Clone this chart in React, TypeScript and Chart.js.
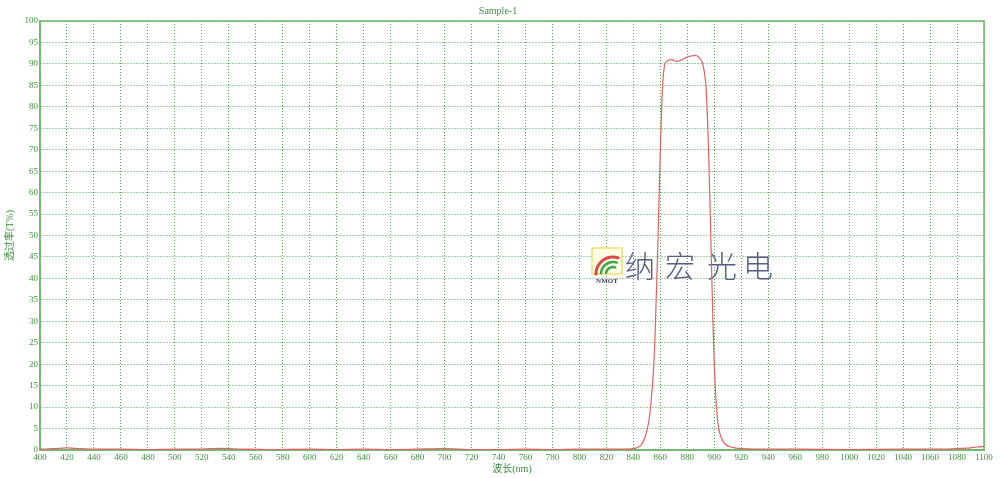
import React, { useEffect, useRef } from "react";
import { Chart, registerables } from "chart.js";

Chart.register(...registerables);

const chartTitle = "Sample-1";
const xAxisTitle = "波长(nm)";
const yAxisTitle = "透过率(T%)";
const brandChars = ["纳", "宏", "光", "电"];
const brandLogoText = "NMOT";

const xTickValues = [
  400, 420, 440, 460, 480, 500, 520, 540, 560, 580, 600, 620, 640, 660, 680, 700, 720, 740,
  760, 780, 800, 820, 840, 860, 880, 900, 920, 940, 960, 980, 1000, 1020, 1040, 1060, 1080, 1100,
];
const yTickValues = [0, 5, 10, 15, 20, 25, 30, 35, 40, 45, 50, 55, 60, 65, 70, 75, 80, 85, 90, 95, 100];

const wavelengths = [
  400, 410, 420, 430, 440, 460, 480, 500, 520, 535, 550, 570, 600, 620, 640, 660, 680, 700, 720,
  740, 760, 780, 800, 820, 832, 840, 843, 846, 848, 850, 852, 853, 854, 855, 856, 857, 858, 859,
  860, 861, 862, 863, 864, 866, 868, 870, 872, 874, 876, 878, 880, 882, 884, 886, 887, 888, 889,
  890, 891, 892, 893, 894, 895, 896, 897, 898, 899, 900, 901, 902, 903, 904, 906, 908, 911, 915,
  920, 930, 960, 1000, 1040, 1070, 1080, 1085, 1090, 1095, 1100,
];
const transmittance = [
  0.2, 0.3, 0.5, 0.3, 0.2, 0.2, 0.1, 0.2, 0.2, 0.4, 0.2, 0.1, 0.2, 0.1, 0.2, 0.1, 0.2, 0.3, 0.1,
  0.1, 0.2, 0.1, 0.2, 0.2, 0.2, 0.3, 0.6, 1.2, 2.5, 4.5, 7.8, 11, 14.5, 19, 26, 36, 46, 58,
  70, 80, 86.5, 89.5, 90.4, 90.8, 91, 90.8, 90.6, 90.7, 91.0, 91.3, 91.6, 91.8, 91.9, 92.0, 91.9, 91.7, 91.4,
  91.0, 90.4, 89.2, 87.2, 84, 77, 67, 55, 42, 30, 20, 13, 8.5, 5.5, 4.0, 2.3, 1.4, 0.8, 0.5,
  0.3, 0.2, 0.2, 0.1, 0.2, 0.2, 0.3, 0.4, 0.5, 0.7, 0.8,
];

const GREEN_TEXT = "#3f913f";
const GREEN_GRID = "rgba(60,150,60,0.9)";
const GREEN_BORDER = "#6cb86c";
const CURVE_RED = "#e06262";
const SERIF = "'Liberation Serif', 'Times New Roman', 'Noto Sans CJK SC', serif";

const decorPlugin = {
  id: "decor",
  beforeDatasetsDraw(chart: any) {
    const { ctx, chartArea } = chart;
    ctx.save();
    ctx.strokeStyle = GREEN_BORDER;
    ctx.lineWidth = 1.5;
    ctx.setLineDash([]);
    ctx.strokeRect(chartArea.left, chartArea.top, chartArea.right - chartArea.left, chartArea.bottom - chartArea.top);

    // watermark logo
    ctx.fillStyle = "rgba(255,252,225,0.9)";
    ctx.fillRect(592, 248, 30, 26);
    ctx.strokeStyle = "#efe07a";
    ctx.lineWidth = 1.5;
    ctx.strokeRect(592, 248, 30, 26);
    ctx.lineCap = "round";
    ctx.strokeStyle = "#d84848";
    ctx.lineWidth = 3;
    ctx.beginPath();
    ctx.arc(613, 274, 17, Math.PI * 1.0, Math.PI * 1.6);
    ctx.stroke();
    ctx.strokeStyle = "#3fa64a";
    ctx.lineWidth = 2.5;
    ctx.beginPath();
    ctx.arc(613, 274, 12, Math.PI * 1.02, Math.PI * 1.6);
    ctx.stroke();
    ctx.beginPath();
    ctx.arc(613, 274, 7, Math.PI * 1.05, Math.PI * 1.6);
    ctx.stroke();
    ctx.fillStyle = "#3a3f6a";
    ctx.font = "bold 7px " + SERIF;
    ctx.textAlign = "center";
    ctx.textBaseline = "middle";
    ctx.fillText(brandLogoText, 607, 281);

    ctx.fillStyle = "#575c85";
    ctx.font = "300 30px 'Noto Sans CJK SC', sans-serif";
    const centers = [640, 680, 722, 758];
    brandChars.forEach((c, i) => ctx.fillText(c, centers[i], 266));
    ctx.restore();
  },
  afterDraw(chart: any) {
    const { ctx } = chart;
    ctx.save();
    ctx.fillStyle = GREEN_TEXT;
    ctx.font = "10px " + SERIF;
    ctx.textAlign = "center";
    ctx.textBaseline = "middle";
    ctx.fillText(chartTitle, 498, 11);
    ctx.restore();
  },
};

export default function App() {
  const canvasRef = useRef<HTMLCanvasElement | null>(null);

  useEffect(() => {
    if (!canvasRef.current) return;
    const points = wavelengths.map((w, i) => ({ x: w, y: transmittance[i] }));
    const chart = new Chart(canvasRef.current, {
      type: "line",
      data: {
        datasets: [
          {
            data: points,
            borderColor: CURVE_RED,
            borderWidth: 1.2,
            pointRadius: 0,
            cubicInterpolationMode: "monotone",
            fill: false,
          },
        ],
      },
      plugins: [decorPlugin],
      options: {
        animation: false,
        responsive: false,
        devicePixelRatio: 1,
        layout: { padding: { top: 21, right: 16, left: 0, bottom: 0 } },
        plugins: {
          legend: { display: false },
          title: { display: false },
          tooltip: { enabled: false },
        },
        scales: {
          x: {
            type: "linear",
            min: 400,
            max: 1100,
            afterBuildTicks: (s: any) => {
              s.ticks = xTickValues.map((v) => ({ value: v }));
            },
            afterFit: (s: any) => {
              s.height = 28;
            },
            ticks: {
              color: GREEN_TEXT,
              font: { family: SERIF, size: 9 },
              padding: 2,
              maxRotation: 0,
              autoSkip: false,
              callback: (v: any) => String(v),
            },
            grid: { color: GREEN_GRID, lineWidth: 1, drawTicks: false },
            border: { color: GREEN_BORDER, width: 1.5, dash: [1, 2] },
            title: {
              display: true,
              text: xAxisTitle,
              color: GREEN_TEXT,
              font: { family: SERIF, size: 10 },
              padding: { top: 0, bottom: 3 },
            },
          },
          y: {
            type: "linear",
            min: 0,
            max: 100,
            afterBuildTicks: (s: any) => {
              s.ticks = yTickValues.map((v) => ({ value: v }));
            },
            afterFit: (s: any) => {
              s.width = 40;
            },
            ticks: {
              color: GREEN_TEXT,
              font: { family: SERIF, size: 9 },
              padding: 2,
              autoSkip: false,
              callback: (v: any) => String(v),
            },
            grid: { color: GREEN_GRID, lineWidth: 1, drawTicks: false },
            border: { color: GREEN_BORDER, width: 1.5, dash: [1, 2] },
            title: {
              display: true,
              text: yAxisTitle,
              color: GREEN_TEXT,
              font: { family: SERIF, size: 10 },
              padding: { top: 4, bottom: 0 },
            },
          },
        },
      },
    } as any);
    return () => chart.destroy();
  }, []);

  return (
    <div style={{ position: "absolute", left: 0, top: 0, width: 1000, height: 478, background: "#fff" }}>
      <canvas ref={canvasRef} width={1000} height={478} style={{ display: "block", width: 1000, height: 478 }} />
    </div>
  );
}
